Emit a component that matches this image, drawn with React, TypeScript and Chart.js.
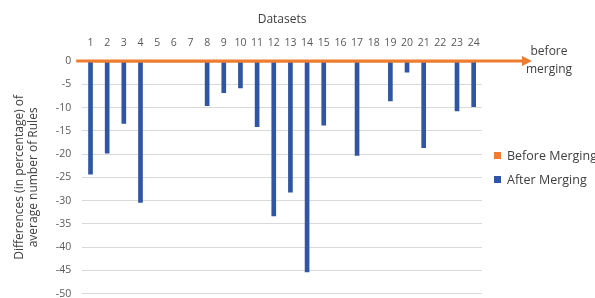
import React, { useEffect, useRef } from "react";
import { Chart, registerables } from "chart.js";

Chart.register(...registerables);

const categories = ["1","2","3","4","5","6","7","8","9","10","11","12","13","14","15","16","17","18","19","20","21","22","23","24"];
const beforeMerging = [0,0,0,0,0,0,0,0,0,0,0,0,0,0,0,0,0,0,0,0,0,0,0,0];
const afterMerging = [-24.3,-19.8,-13.4,-30.4,0,0,0,-9.6,-6.8,-5.8,-14.1,-33.3,-28.2,-45.3,-13.8,0,-20.3,0,-8.6,-2.4,-18.6,0,-10.7,-9.8];
const yTickMin = -50;
const yTickMax = 0;
const yTickStep = 5;
const seriesNames = ["Before Merging", "After Merging"];

const ORANGE = "#ED7D31";
const BLUE = "#2F55A3";
const seriesColors = [ORANGE, BLUE];
const FONT = "'Open Sans', sans-serif";

const arrowPlugin = {
  id: "arrowLine",
  afterDatasetsDraw(chart: any) {
    const { ctx, chartArea, scales } = chart;
    const y = scales.y.getPixelForValue(0);
    const x0 = chartArea.left - 6;
    const tip = chartArea.right + 50;
    ctx.save();
    ctx.strokeStyle = ORANGE;
    ctx.lineWidth = 3;
    ctx.beginPath();
    ctx.moveTo(x0, y);
    ctx.lineTo(tip - 8, y);
    ctx.stroke();
    ctx.fillStyle = ORANGE;
    ctx.beginPath();
    ctx.moveTo(tip, y);
    ctx.lineTo(tip - 10, y - 5);
    ctx.lineTo(tip - 10, y + 5);
    ctx.closePath();
    ctx.fill();
    ctx.fillStyle = "#404040";
    ctx.font = "12px " + FONT;
    ctx.textAlign = "center";
    ctx.textBaseline = "middle";
    ctx.fillText("before", tip + 17, y - 9);
    ctx.fillText("merging", tip + 17, y + 9);
    ctx.restore();
  },
};

export default function App() {
  const ref = useRef<HTMLCanvasElement>(null);
  useEffect(() => {
    if (!ref.current) return;
    const chart = new Chart(ref.current, {
      type: "bar",
      data: {
        labels: categories,
        datasets: [
          {
            type: "line" as any,
            label: seriesNames[0],
            data: beforeMerging,
            borderColor: ORANGE,
            backgroundColor: ORANGE,
            borderWidth: 3,
            pointRadius: 0,
          } as any,
          {
            label: seriesNames[1],
            data: afterMerging,
            backgroundColor: BLUE,
            barThickness: 4,
          },
        ],
      },
      plugins: [arrowPlugin],
      options: {
        animation: false,
        responsive: true,
        maintainAspectRatio: false,
        layout: { padding: { top: 12, left: 12, right: 113, bottom: 0 } },
        plugins: {
          legend: { display: false },
          tooltip: { enabled: false },
        },
        scales: {
          x: {
            position: "top",
            grid: { display: false },
            border: { display: false },
            ticks: { color: "#595959", font: { family: FONT, size: 10.5 }, maxRotation: 0, autoSkip: false, padding: 4 },
            title: { display: true, text: "Datasets", color: "#404040", font: { family: FONT, size: 12 }, padding: { top: 0, bottom: 6 } },
          },
          y: {
            min: yTickMin,
            max: yTickMax,
            ticks: { stepSize: yTickStep, color: "#595959", font: { family: FONT, size: 10.5 }, padding: 11 },
            grid: { color: "#D9D9D9", drawTicks: false },
            border: { display: false },
            title: {
              display: true,
              text: ["Differences (in percentage) of", "average number of Rules"],
              color: "#404040",
              font: { family: FONT, size: 12 },
              padding: { top: 0, bottom: 4 },
            },
          },
        },
      },
    });
    return () => chart.destroy();
  }, []);
  return (
    <div style={{ position: "fixed", left: 0, top: 0, width: 595, height: 298, overflow: "hidden", background: "#fff" }}>
      <div style={{ position: "absolute", left: 0, top: 0, width: 595, height: 311 }}>
        <canvas ref={ref} />
      </div>
      <div style={{ position: "absolute", left: 494, top: 146, fontFamily: FONT, fontSize: 12.5, color: "#404040", whiteSpace: "nowrap" }}>
        {seriesNames.map((n, i) => (
          <div key={n} style={{ display: "flex", alignItems: "center", height: 18, marginBottom: 6 }}>
            <span style={{ display: "inline-block", width: 7, height: 7, background: seriesColors[i], marginRight: 6 }} />
            <span>{n}</span>
          </div>
        ))}
      </div>
    </div>
  );
}
